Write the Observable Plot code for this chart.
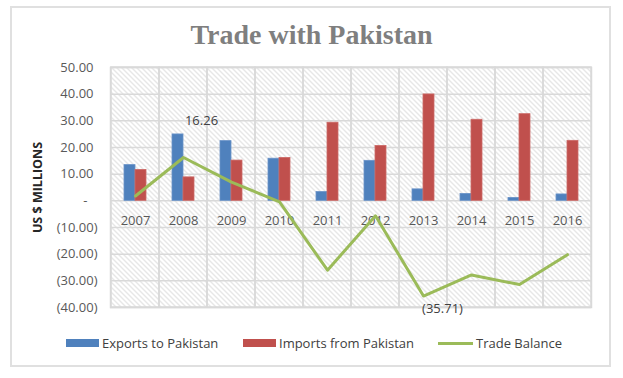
<!DOCTYPE html>
<html>
<head>
<meta charset="utf-8">
<script src="https://cdn.jsdelivr.net/npm/d3@7"></script>
<script src="https://cdn.jsdelivr.net/npm/@observablehq/plot@0.6"></script>
<style>
  body { margin: 0; background: #fff; }
  #wrap { position: relative; width: 623px; height: 378px; background: #fff; overflow: hidden; font-family: "Open Sans", sans-serif; }
  #border { position: absolute; left: 10px; top: 6px; width: 597px; height: 357px; border: 2px solid #e0e0e0; }
  #title { position: absolute; left: 0; top: 20px; width: 623px; text-align: center; font: bold 28px "Liberation Serif", serif; color: #7f7f7f; line-height: 30px; }
  #chart { position: absolute; left: 0; top: 56px; }
  .lg { position: absolute; font-size: 13px; color: #404040; line-height: 16px; }
  .sw { position: absolute; }
</style>
</head>
<body>
<div id="wrap">
  <div id="border"></div>
  <div id="title">Trade with Pakistan</div>
  <div id="chart"></div>
  <div class="sw" style="left:66px;top:339px;width:33px;height:8px;background:#4F81BD"></div>
  <div class="lg" style="left:102px;top:335px">Exports to Pakistan</div>
  <div class="sw" style="left:243px;top:339px;width:33px;height:8px;background:#C0504D"></div>
  <div class="lg" style="left:279px;top:335px">Imports from Pakistan</div>
  <div class="sw" style="left:438px;top:342px;width:35px;height:3px;background:#9BBB59"></div>
  <div class="lg" style="left:476px;top:335px">Trade Balance</div>
</div>
<script>
const years = ["2007","2008","2009","2010","2011","2012","2013","2014","2015","2016"];
const exportsVals = [13.4, 24.9, 22.4, 15.8, 3.3, 15.0, 4.3, 2.6, 1.1, 2.4];
const importsVals = [11.6, 8.8, 15.1, 16.1, 29.3, 20.6, 39.9, 30.4, 32.5, 22.5];
const balanceVals = [1.8, 16.26, 7.0, -0.4, -26.0, -5.6, -35.71, -27.8, -31.4, -20.2];
const yTicks = [50, 40, 30, 20, 10, 0, -10, -20, -30, -40];
const labelled = [{year: "2008", v: 16.26, t: "16.26", pos: "up"}, {year: "2013", v: -35.71, t: "(35.71)", pos: "down"}];

const exp = years.map((y, i) => ({year: y, v: exportsVals[i]}));
const imp = years.map((y, i) => ({year: y, v: importsVals[i]}));
const bal = years.map((y, i) => ({year: y, v: balanceVals[i]}));

const fmt = d => d === 0 ? "-" : d < 0 ? "(" + (-d).toFixed(2) + ")" : d.toFixed(2);
const grid = "#d9d9d9";

const svg = Plot.plot({
  width: 623,
  height: 270,
  marginTop: 11,
  marginBottom: 19,
  marginLeft: 110,
  marginRight: 32,
  style: {fontFamily: "Open Sans", fontSize: "13px", color: "#595959", background: "transparent", overflow: "visible"},
  x: {type: "band", domain: years, padding: 0, axis: null},
  y: {domain: [-40, 50], axis: null},
  marks: [
    Plot.frame({fill: "url(#hatch)", stroke: grid, strokeWidth: 1.5}),
    Plot.cell(years, {x: d => d, fill: "none", stroke: grid, strokeWidth: 1.5}),
    Plot.ruleY(yTicks, {stroke: grid, strokeWidth: 1.5}),
    Plot.axisY(yTicks.filter(d => d > 0), {tickSize: 0, tickPadding: 17, tickFormat: fmt, label: null}),
    Plot.axisY([0], {tickSize: 0, tickPadding: 23, tickFormat: fmt, label: null}),
    Plot.axisY(yTicks.filter(d => d < 0), {tickSize: 0, tickPadding: 13, tickFormat: fmt, label: null}),
    Plot.text(["US $ MILLIONS"], {frameAnchor: "left", textAnchor: "middle", dx: -73, rotate: -90, fontWeight: "bold", fontSize: 12.5, fill: "#262626"}),
    Plot.barY(exp, {x: "year", y: "v", fill: "#4F81BD", stroke: "#6a93c9", strokeWidth: 0.8, insetLeft: 13, insetRight: 24}),
    Plot.barY(imp, {x: "year", y: "v", fill: "#C0504D", stroke: "#cc6a67", strokeWidth: 0.8, insetLeft: 24, insetRight: 13}),
    Plot.text(years, {x: d => d, y: () => 0, dy: 20, text: d => d, fill: "#595959"}),
    Plot.line(bal, {x: "year", y: "v", stroke: "#9BBB59", strokeWidth: 3}),
    Plot.text(labelled.filter(d => d.pos === "up"), {x: "year", y: "v", text: "t", dx: 18, dy: -37, fill: "#404040"}),
    Plot.text(labelled.filter(d => d.pos === "down"), {x: "year", y: "v", text: "t", dx: 19, dy: 13, fill: "#404040"})
  ]
});
svg.insertAdjacentHTML("afterbegin",
  '<defs><pattern id="hatch" patternUnits="userSpaceOnUse" width="5" height="5">' +
  '<rect width="5" height="5" fill="#fff"/>' +
  '<path d="M-1,-1 L6,6 M-1,4 L1,6 M4,-1 L6,1" stroke="#cfcfcf" stroke-width="1"/></pattern></defs>');
document.getElementById("chart").appendChild(svg);
</script>
</body>
</html>
